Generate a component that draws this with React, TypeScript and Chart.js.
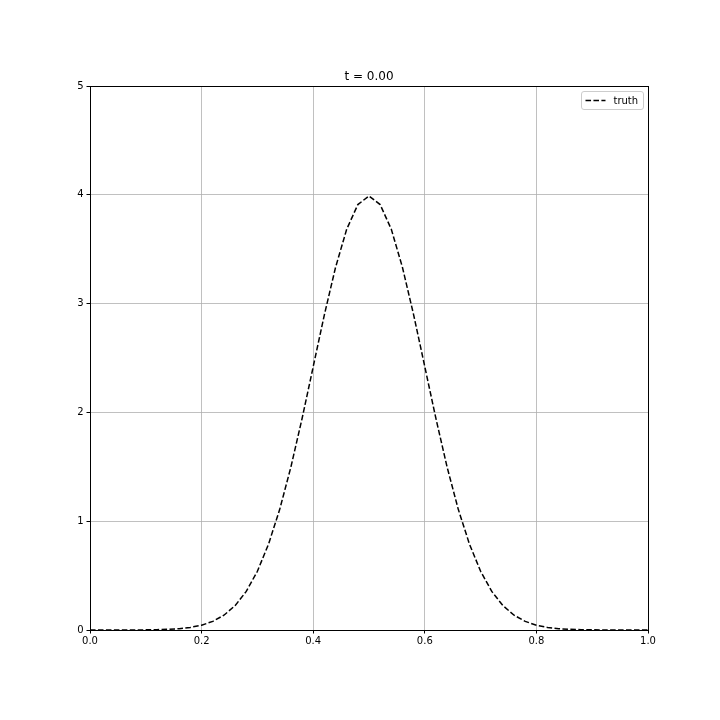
import React, { useEffect, useRef } from "react";
import { Chart, registerables } from "chart.js";

Chart.register(...registerables);

const xValues = [
  0.0, 0.02, 0.04, 0.06, 0.08, 0.1, 0.12, 0.14, 0.16, 0.18, 0.2, 0.22, 0.24, 0.26, 0.28, 0.3, 0.32, 0.34, 0.36,
  0.38, 0.4, 0.42, 0.44, 0.46, 0.48, 0.5, 0.52, 0.54, 0.56, 0.58, 0.6, 0.62, 0.64, 0.66, 0.68, 0.7, 0.72, 0.74,
  0.76, 0.78, 0.8, 0.82, 0.84, 0.86, 0.88, 0.9, 0.92, 0.94, 0.96, 0.98, 1.0,
];
const truthValues = [
  0.00002, 0.00004, 0.0001, 0.00025, 0.0006, 0.0013, 0.0029, 0.0061, 0.0123, 0.0238, 0.0443, 0.079, 0.136,
  0.224, 0.355, 0.54, 0.79, 1.109, 1.497, 1.942, 2.42, 2.897, 3.332, 3.683, 3.91, 3.989, 3.91, 3.683, 3.332,
  2.897, 2.42, 1.942, 1.497, 1.109, 0.79, 0.54, 0.355, 0.224, 0.136, 0.079, 0.0443, 0.0238, 0.0123, 0.0061,
  0.0029, 0.0013, 0.0006, 0.00025, 0.0001, 0.00004, 0.00002,
];
const seriesLabel = "truth";
const titleText = "t = 0.00";
const xTicks = [0, 0.2, 0.4, 0.6, 0.8, 1.0];
const yTicks = [0, 1, 2, 3, 4, 5];

const FONT = "'DejaVu Sans', sans-serif";

export default function App() {
  const ref = useRef<HTMLCanvasElement | null>(null);
  useEffect(() => {
    document.body.style.margin = "0";
    const ctx = ref.current!.getContext("2d")!;
    const overlay = {
      id: "overlay",
      afterDraw(chart: any) {
        const c = chart.ctx;
        const a = chart.chartArea;
        c.save();
        // frame
        c.strokeStyle = "#000";
        c.lineWidth = 1;
        c.setLineDash([]);
        c.strokeRect(Math.round(a.left) + 0.5, Math.round(a.top) + 0.5, Math.round(a.right - a.left), Math.round(a.bottom - a.top));
        // title
        c.fillStyle = "#000";
        c.font = `12px ${FONT}`;
        c.textAlign = "center";
        c.textBaseline = "alphabetic";
        c.fillText(titleText, (a.left + a.right) / 2, a.top - 6);
        // legend
        const ds = chart.data.datasets[0];
        c.font = `10px ${FONT}`;
        const tw = c.measureText(ds.label).width;
        const bw = 4 + 20 + 8 + tw + 5;
        const bh = 18;
        const bx = a.right - 5 - bw;
        const by = a.top + 5;
        c.fillStyle = "rgba(255,255,255,0.8)";
        c.strokeStyle = "#cccccc";
        c.lineWidth = 1;
        c.beginPath();
        const r = 2.5;
        const x0 = Math.round(bx) + 0.5, y0 = Math.round(by) + 0.5, w = Math.round(bw), h = bh;
        c.moveTo(x0 + r, y0);
        c.lineTo(x0 + w - r, y0);
        c.arcTo(x0 + w, y0, x0 + w, y0 + r, r);
        c.lineTo(x0 + w, y0 + h - r);
        c.arcTo(x0 + w, y0 + h, x0 + w - r, y0 + h, r);
        c.lineTo(x0 + r, y0 + h);
        c.arcTo(x0, y0 + h, x0, y0 + h - r, r);
        c.lineTo(x0, y0 + r);
        c.arcTo(x0, y0, x0 + r, y0, r);
        c.closePath();
        c.fill();
        c.stroke();
        const ly = y0 + h / 2;
        c.strokeStyle = ds.borderColor;
        c.lineWidth = ds.borderWidth;
        c.setLineDash(ds.borderDash);
        c.beginPath();
        c.moveTo(x0 + 4, ly);
        c.lineTo(x0 + 24, ly);
        c.stroke();
        c.setLineDash([]);
        c.fillStyle = "#000";
        c.textAlign = "left";
        c.textBaseline = "middle";
        c.fillText(ds.label, x0 + 32, ly + 0.5);
        c.restore();
      },
    };
    const chart = new Chart(ctx, {
      type: "line",
      data: {
        datasets: [
          {
            label: seriesLabel,
            data: xValues.map((x, i) => ({ x, y: truthValues[i] })),
            borderColor: "#000000",
            borderWidth: 1.5,
            borderDash: [5.55, 2.4],
            pointRadius: 0,
            fill: false,
            tension: 0,
          },
        ],
      },
      options: {
        animation: false,
        responsive: false,
        maintainAspectRatio: false,
        layout: { padding: { left: 0, top: 86, right: 72, bottom: 0 } },
        plugins: { legend: { display: false }, title: { display: false }, tooltip: { enabled: false } },
        scales: {
          x: {
            type: "linear",
            min: 0,
            max: 1,
            afterFit: (s: any) => {
              s.height = 90;
            },
            afterBuildTicks: (s: any) => {
              s.ticks = xTicks.map((v) => ({ value: v }));
            },
            ticks: {
              color: "#000",
              font: { family: FONT, size: 10 },
              padding: 2,
              maxRotation: 0,
              callback: (v: any) => Number(v).toFixed(1),
            },
            grid: { color: "#b0b0b0", lineWidth: 0.8, tickLength: 3.5, tickColor: "#000", tickWidth: 1 },
            border: { display: false },
          },
          y: {
            type: "linear",
            min: 0,
            max: 5,
            afterFit: (s: any) => {
              s.width = 90;
            },
            afterBuildTicks: (s: any) => {
              s.ticks = yTicks.map((v) => ({ value: v }));
            },
            ticks: {
              color: "#000",
              font: { family: FONT, size: 10 },
              padding: 3,
              callback: (v: any) => String(v),
            },
            grid: { color: "#b0b0b0", lineWidth: 0.8, tickLength: 3.5, tickColor: "#000", tickWidth: 1 },
            border: { display: false },
          },
        },
      },
      plugins: [overlay],
    });
    return () => chart.destroy();
  }, []);
  return (
    <div style={{ position: "fixed", left: 0, top: 0, width: 720, height: 720, background: "#fff" }}>
      <canvas ref={ref} width={720} height={720} style={{ width: 720, height: 720 }} />
    </div>
  );
}
